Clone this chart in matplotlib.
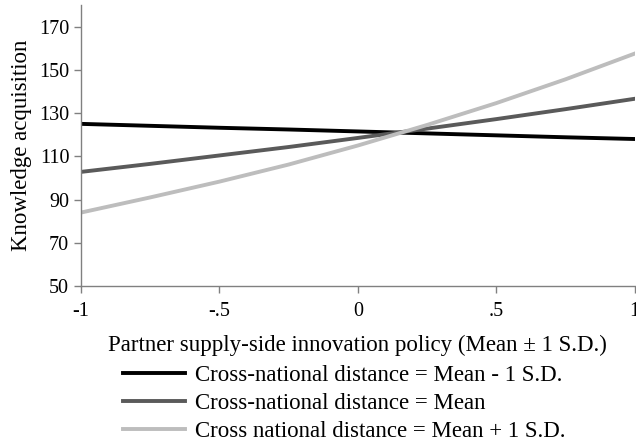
import matplotlib.pyplot as plt

# Datos
x = [-1, -0.75, -0.5, -0.25, 0, 0.25, 0.5, 0.75, 1]
y_low = [125.0, 124.1, 123.2, 122.4, 121.5, 120.6, 119.7, 118.8, 118.0]     # Mean - 1 S.D.
y_mean = [102.8, 106.5, 110.4, 114.3, 118.5, 122.8, 127.2, 131.8, 136.6]    # Mean
y_high = [84.0, 91.0, 98.3, 106.2, 115.0, 124.5, 134.6, 145.6, 157.5]       # Mean + 1 S.D.

xticks = [-1, -0.5, 0, 0.5, 1]
xtick_labels = ["-1", "-.5", "0", ".5", "1"]
yticks = [50, 70, 90, 110, 130, 150, 170]

labels = ["Cross-national distance = Mean - 1 S.D.",
          "Cross-national distance = Mean",
          "Cross national distance = Mean + 1 S.D."]

plt.rcParams['font.family'] = ['Liberation Serif', 'DejaVu Serif']

fig = plt.figure(figsize=(6.36, 4.47), dpi=100)
ax = fig.add_axes([0.1274, 0.360, 0.8706, 0.629])

ax.plot(x, y_low, color='#000000', lw=2.8, label=labels[0])
ax.plot(x, y_mean, color='#5a5a5a', lw=2.8, label=labels[1])
ax.plot(x, y_high, color='#bdbdbd', lw=2.8, label=labels[2])

ax.set_xlim(-1, 1)
ax.set_ylim(50, 180)
ax.set_xticks(xticks)
ax.set_xticklabels(xtick_labels)
ax.set_yticks(yticks)
for s in ['top', 'right']:
    ax.spines[s].set_visible(False)
for s in ['left', 'bottom']:
    ax.spines[s].set_color('#808080')
    ax.spines[s].set_linewidth(1.0)
ax.tick_params(colors='#808080', length=5, width=1.0, labelsize=14.5, labelcolor='black')
ax.tick_params(axis='x', pad=6.5)

ax.set_xlabel("Partner supply-side innovation policy (Mean \u00b1 1 S.D.)", fontsize=16.5, labelpad=10)
ax.set_ylabel("Knowledge acquisition", fontsize=16.5, labelpad=5)

fig.legend(loc='upper left', bbox_to_anchor=(0.193, 0.1843), frameon=False,
           fontsize=16.5, handlelength=2.7, handletextpad=0.44, labelspacing=0.32,
           borderpad=0, borderaxespad=0)

fig.savefig("out.png", dpi=100)
